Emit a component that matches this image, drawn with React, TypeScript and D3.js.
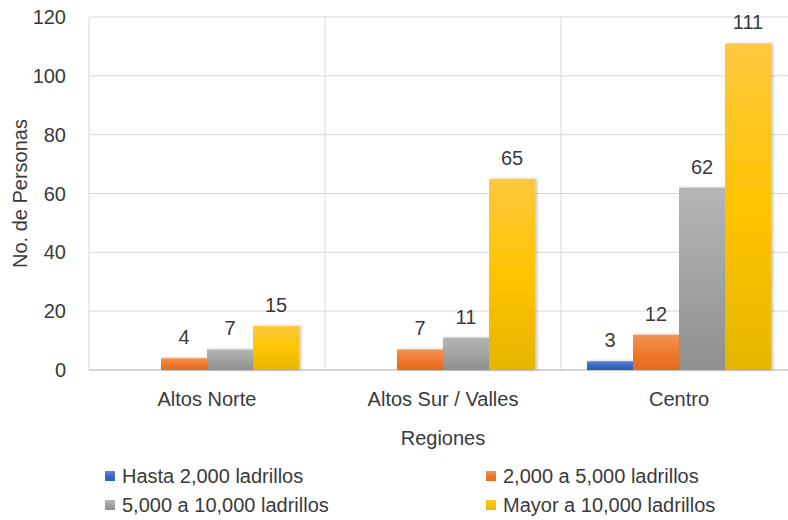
import React from "react";
import * as d3 from "d3";

const categories = ["Altos Norte", "Altos Sur / Valles", "Centro"];
const seriesNames = [
  "Hasta 2,000 ladrillos",
  "2,000 a 5,000 ladrillos",
  "5,000 a 10,000 ladrillos",
  "Mayor a 10,000 ladrillos",
];
const hasta2000 = [0, 0, 3];
const de2000a5000 = [4, 7, 12];
const de5000a10000 = [7, 11, 62];
const mayor10000 = [15, 65, 111];
const yTicks = [0, 20, 40, 60, 80, 100, 120];

const seriesValues = [hasta2000, de2000a5000, de5000a10000, mayor10000];
const gradients = [
  ["#5b8be0", "#3a68c8", "#2f5bb8"],
  ["#f49255", "#ee7a30", "#e56a1c"],
  ["#b5b5b5", "#a3a3a3", "#8f8f8f"],
  ["#ffc840", "#ffc400", "#e5b500"],
];

const W = 788;
const H = 520;
const margin = { left: 89, right: 797, top: 17, bottom: 370 };
const font = "'Liberation Sans', Arial, Helvetica, sans-serif";
const textColor = "#3a3a3a";
const fs = 20;

export default function App() {
  const x = d3.scaleBand<string>().domain(categories).range([margin.left, margin.right]);
  const inner = d3
    .scaleBand<number>()
    .domain(seriesNames.map((_, i) => i))
    .range([0, x.bandwidth()])
    .paddingOuter(0.565)
    .paddingInner(0);
  const y = d3.scaleLinear().domain([0, 120]).range([margin.bottom, margin.top]);

  return (
    <div style={{ position: "fixed", left: 0, top: 0 }}>
      <svg width={W} height={H} style={{ display: "block", fontFamily: font }}>
        <defs>
          {gradients.map((g, i) => (
            <linearGradient key={i} id={`g${i}`} x1="0" y1="0" x2="0" y2="1">
              <stop offset="0%" stopColor={g[0]} />
              <stop offset="50%" stopColor={g[1]} />
              <stop offset="100%" stopColor={g[2]} />
            </linearGradient>
          ))}
          <filter id="shadow" x="-20%" y="-20%" width="140%" height="140%">
            <feDropShadow dx="2" dy="0" stdDeviation="1.5" floodColor="#000" floodOpacity="0.25" />
          </filter>
        </defs>
        <rect width={W} height={H} fill="#fff" />
        {yTicks.map((t) => (
          <line
            key={t}
            x1={margin.left}
            x2={margin.right}
            y1={y(t)}
            y2={y(t)}
            stroke="#d9d9d9"
            strokeWidth={1}
          />
        ))}
        {categories.map((c) => (
          <line
            key={c}
            x1={x(c)}
            x2={x(c)}
            y1={margin.top}
            y2={margin.bottom}
            stroke="#d9d9d9"
            strokeWidth={1}
          />
        ))}
        <line x1={margin.left} x2={margin.right} y1={y(0)} y2={y(0)} stroke="#bfbfbf" strokeWidth={1.2} />
        {yTicks.map((t) => (
          <text
            key={t}
            x={66}
            y={y(t)}
            dy="0.35em"
            textAnchor="end"
            fontSize={fs}
            fill={textColor}
          >
            {t}
          </text>
        ))}
        {categories.map((c, ci) =>
          seriesValues.map((vals, si) => {
            const v = vals[ci];
            if (!v) return null;
            const bx = (x(c) as number) + (inner(si) as number);
            return (
              <g key={`${ci}-${si}`}>
                <rect
                  x={bx}
                  y={y(v)}
                  width={inner.bandwidth()}
                  height={y(0) - y(v)}
                  fill={`url(#g${si})`}
                  filter="url(#shadow)"
                />
                <text
                  x={bx + inner.bandwidth() / 2}
                  y={y(v) - 14}
                  textAnchor="middle"
                  fontSize={fs}
                  fill={textColor}
                >
                  {v}
                </text>
              </g>
            );
          })
        )}
        {categories.map((c) => (
          <text
            key={c}
            x={(x(c) as number) + x.bandwidth() / 2}
            y={399}
            dy="0.35em"
            textAnchor="middle"
            fontSize={fs}
            fill={textColor}
          >
            {c}
          </text>
        ))}
        <text x={443} y={438} dy="0.35em" textAnchor="middle" fontSize={fs} fill={textColor}>
          Regiones
        </text>
        <text
          transform={`translate(20, ${(margin.top + margin.bottom) / 2}) rotate(-90)`}
          dy="0.35em"
          textAnchor="middle"
          fontSize={fs}
          fill={textColor}
        >
          No. de Personas
        </text>
        {seriesNames.map((n, i) => {
          const col = i % 2;
          const row = Math.floor(i / 2);
          const lx = col === 0 ? 105 : 486;
          const ly = row === 0 ? 476 : 505;
          return (
            <g key={n}>
              <rect x={lx} y={ly - 5} width={10} height={10} fill={`url(#g${i})`} />
              <text x={lx + 17} y={ly} dy="0.35em" fontSize={fs} fill={textColor}>
                {n}
              </text>
            </g>
          );
        })}
      </svg>
    </div>
  );
}
